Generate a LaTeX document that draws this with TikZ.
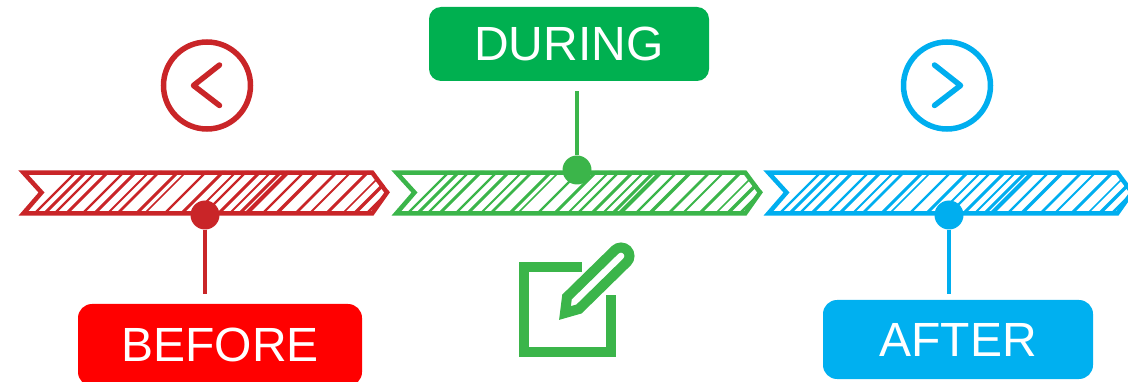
\documentclass[tikz,border=0pt]{standalone}
\usepackage{fontspec}
\setmainfont{Liberation Sans}
\definecolor{cred}{HTML}{C92528}
\definecolor{cgreen}{HTML}{3BB54A}
\definecolor{cblue}{HTML}{00AEEF}
\definecolor{bred}{HTML}{FF0000}
\definecolor{bgreen}{HTML}{00B050}
\definecolor{bblue}{HTML}{00B0F0}
\tikzset{
  label box/.style={rounded corners=12pt,inner sep=0pt,text=white,font=\fontsize{48}{48}\selectfont},
  knob/.style={circle,inner sep=0pt,minimum size=29pt},
  stem/.style={line width=4.5pt},
  ring/.style={circle,draw,line width=5.5pt,minimum size=87pt,inner sep=0pt},
  chev/.style={line width=5.5pt,line cap=round,line join=round},
}
\newcommand{\hatchbar}[2]{%
  \begin{scope}[shift={(#1,0)}]
    \begin{scope}
      \clip (0,171) -- (353,171) -- (370,192.5) -- (353,215) -- (0,215) -- (20,192.5) -- cycle;
      \foreach \o/\w in {10/2.2,20/3,30/2.2,42/3,58/2.2,70/3,83/1.8,93/2.6,112/3,120/1.6,140/2.4,157/3,170/1.8,180/2.2,194/3,205/1.8,215/3,222/4.2,238/2.4,252/3.2,271/2.8,285/2,302/3,318/1.6,330/3.2,342/2.2,352/2.4,362/2.6}
        \draw[#2,line width=\w pt] (\o,218) -- (\o+52,166);
    \end{scope}
    \draw[#2,line width=4.5pt,miter limit=10] (3.5,172.7) -- (352.3,172.7) -- (367,192.5) -- (352.3,213.3) -- (3.5,213.3) -- (21.5,192.5) -- cycle;
  \end{scope}}
\begin{document}
\begin{tikzpicture}[x=1pt,y=-1pt]
\useasboundingbox (0,0) rectangle (1128,382);
\clip (0,0) rectangle (1128,382);
% bars
\hatchbar{20}{cred}
\hatchbar{393}{cgreen}
\hatchbar{765}{cblue}
% ring icons
\node[ring,draw=cred] (backicon) at (207,85.5) {};
\draw[chev,cred] (219.5,65) -- (193.5,85.5) -- (219.5,105.5);
\node[ring,draw=cblue] (nexticon) at (947,85.5) {};
\draw[chev,cblue] (934.5,65) -- (960.5,85.5) -- (934.5,105.5);
% label boxes
\node[label box,fill=bgreen,minimum width=280pt,minimum height=74pt] (during) at (569,44) {DURING};
\node[label box,fill=bred,rounded corners=14pt,minimum width=284pt,minimum height=82pt] (before) at (220,345) {BEFORE};
\node[label box,fill=bblue,rounded corners=14pt,minimum width=270pt,minimum height=79pt] (after) at (958,339.5) {AFTER};
% knobs and stems
\node[knob,fill=cred] (kred) at (205,215) {};
\node[knob,fill=cgreen] (kgreen) at (577,170) {};
\node[knob,fill=cblue] (kblue) at (949,215) {};
\coordinate (ered) at (205,294);
\coordinate (egreen) at (577,91);
\coordinate (eblue) at (949,294);
\draw[stem,cred] (kred) -- (ered);
\draw[stem,cgreen] (kgreen) -- (egreen);
\draw[stem,cblue] (kblue) -- (eblue);
% edit icon
\draw[cgreen,line width=10pt,miter limit=10] (582,267) -- (524,267) -- (524,352) -- (611,352) -- (611,295);
\draw[cgreen,line width=10pt,miter limit=10] (565,313) -- (567,297) -- (615,250) .. controls (618.3,246.7) and (623.7,246.7) .. (627,250) .. controls (630.3,253.3) and (630.3,258.7) .. (627,262) -- (579,309) -- cycle;
\end{tikzpicture}
\end{document}
